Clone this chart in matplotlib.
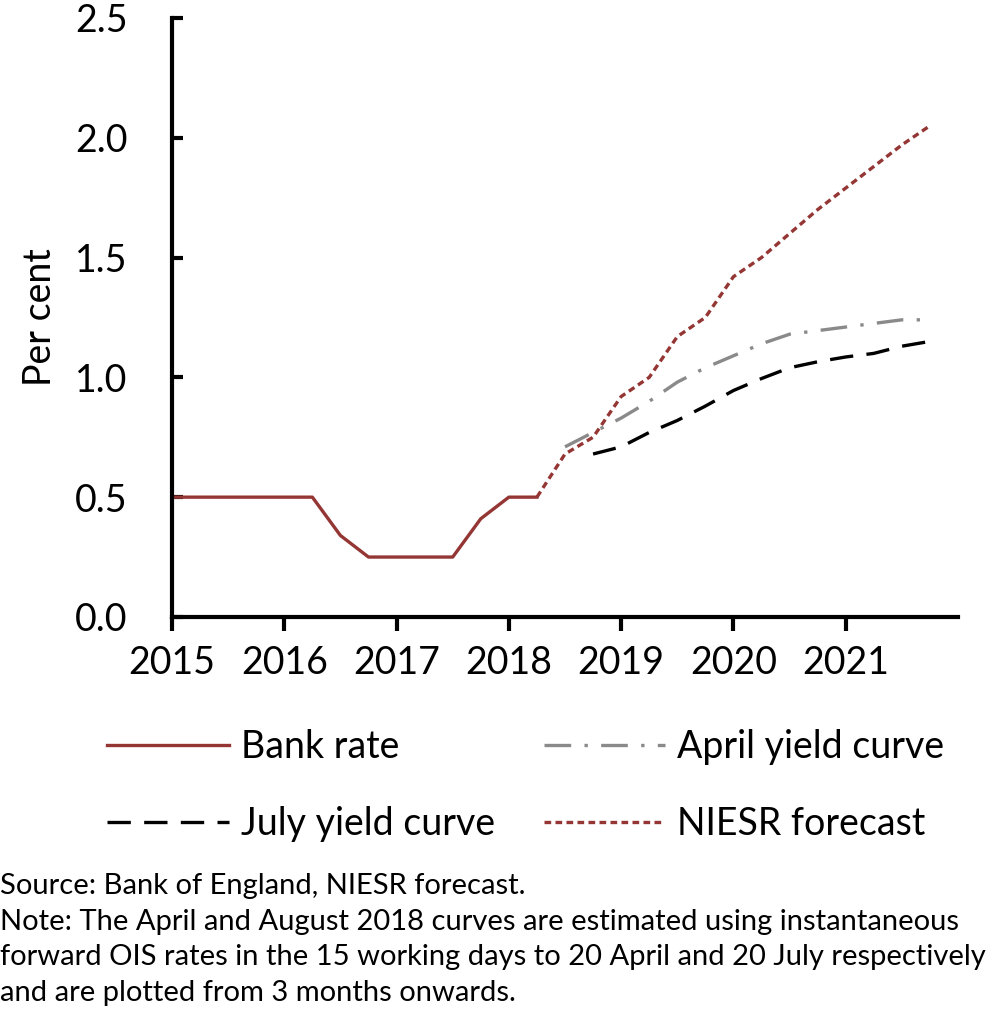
import matplotlib.pyplot as plt

plt.rcParams['font.family'] = ['Lato', 'DejaVu Sans']

# quarterly dates (year + fraction)
bank_dates = [2015.0, 2015.25, 2015.5, 2015.75, 2016.0, 2016.25, 2016.5, 2016.75,
              2017.0, 2017.25, 2017.5, 2017.75, 2018.0, 2018.25]
bank_rate = [0.5, 0.5, 0.5, 0.5, 0.5, 0.5, 0.34, 0.25, 0.25, 0.25, 0.25, 0.41, 0.5, 0.5]

niesr_dates = [2018.25, 2018.5, 2018.75, 2019.0, 2019.25, 2019.5, 2019.75, 2020.0,
               2020.25, 2020.5, 2020.75, 2021.0, 2021.25, 2021.5, 2021.75]
niesr = [0.5, 0.68, 0.75, 0.92, 1.0, 1.17, 1.25, 1.42, 1.50, 1.60, 1.70, 1.79, 1.88, 1.97, 2.05]

april_dates = [2018.5, 2018.75, 2019.0, 2019.25, 2019.5, 2019.75, 2020.0, 2020.25,
               2020.5, 2020.75, 2021.0, 2021.25, 2021.5, 2021.75]
april = [0.71, 0.77, 0.83, 0.90, 0.98, 1.04, 1.09, 1.14, 1.18, 1.195, 1.21, 1.225, 1.24, 1.24]

july_dates = [2018.75, 2019.0, 2019.25, 2019.5, 2019.75, 2020.0, 2020.25, 2020.5,
              2020.75, 2021.0, 2021.25, 2021.5, 2021.75]
july = [0.68, 0.71, 0.77, 0.82, 0.88, 0.945, 0.995, 1.04, 1.065, 1.085, 1.10, 1.13, 1.15]

years = [2015, 2016, 2017, 2018, 2019, 2020, 2021]
yticks = [0.0, 0.5, 1.0, 1.5, 2.0, 2.5]

red = '#943634'

fig = plt.figure(figsize=(10, 10.31), dpi=100)
ax = fig.add_axes([0.172, 0.4016, 0.786, 0.581])

l1, = ax.plot(bank_dates, bank_rate, color=red, lw=2.4, label='Bank rate')
l2, = ax.plot(april_dates, april, color='#8a8a8a', lw=2.4, dashes=(8, 4, 1, 4),
              label='April yield curve')
l3, = ax.plot(july_dates, july, color='black', lw=2.4, dashes=(7, 4),
              label='July yield curve')
l4, = ax.plot(niesr_dates, niesr, color=red, lw=2.4, dashes=(2, 1.3),
              label='NIESR forecast')

ax.set_xlim(2015, 2022)
ax.set_ylim(0, 2.5)
ax.set_xticks(years)
ax.set_xticklabels([str(y) for y in years])
ax.set_yticks(yticks)
ax.set_yticklabels([f'{v:.1f}' for v in yticks])
ax.spines['top'].set_visible(False)
ax.spines['right'].set_visible(False)
ax.spines['left'].set_linewidth(3)
ax.spines['bottom'].set_linewidth(3)
ax.tick_params(axis='y', direction='in', length=8, width=3, labelsize=27, pad=32)
ax.tick_params(axis='x', direction='out', length=10, width=3, labelsize=27, pad=10)
ax.set_ylabel('Per cent', fontsize=27, labelpad=12)

# column-wise fill: first column Bank rate / July, second April / NIESR
fig.legend(handles=[l1, l3, l2, l4], loc='upper left', bbox_to_anchor=(0.073, 0.326),
           ncol=2, frameon=False, fontsize=27, handlelength=3.25, handletextpad=0.32,
           columnspacing=1.3, labelspacing=1.1)

note = ("Source: Bank of England, NIESR forecast.\n"
        "Note: The April and August 2018 curves are estimated using instantaneous\n"
        "forward OIS rates in the 15 working days to 20 April and 20 July respectively\n"
        "and are plotted from 3 months onwards.")
fig.text(0.0, 0.153, note, fontsize=21, va='top', ha='left', linespacing=1.45)

fig.savefig('out.png', dpi=100)
